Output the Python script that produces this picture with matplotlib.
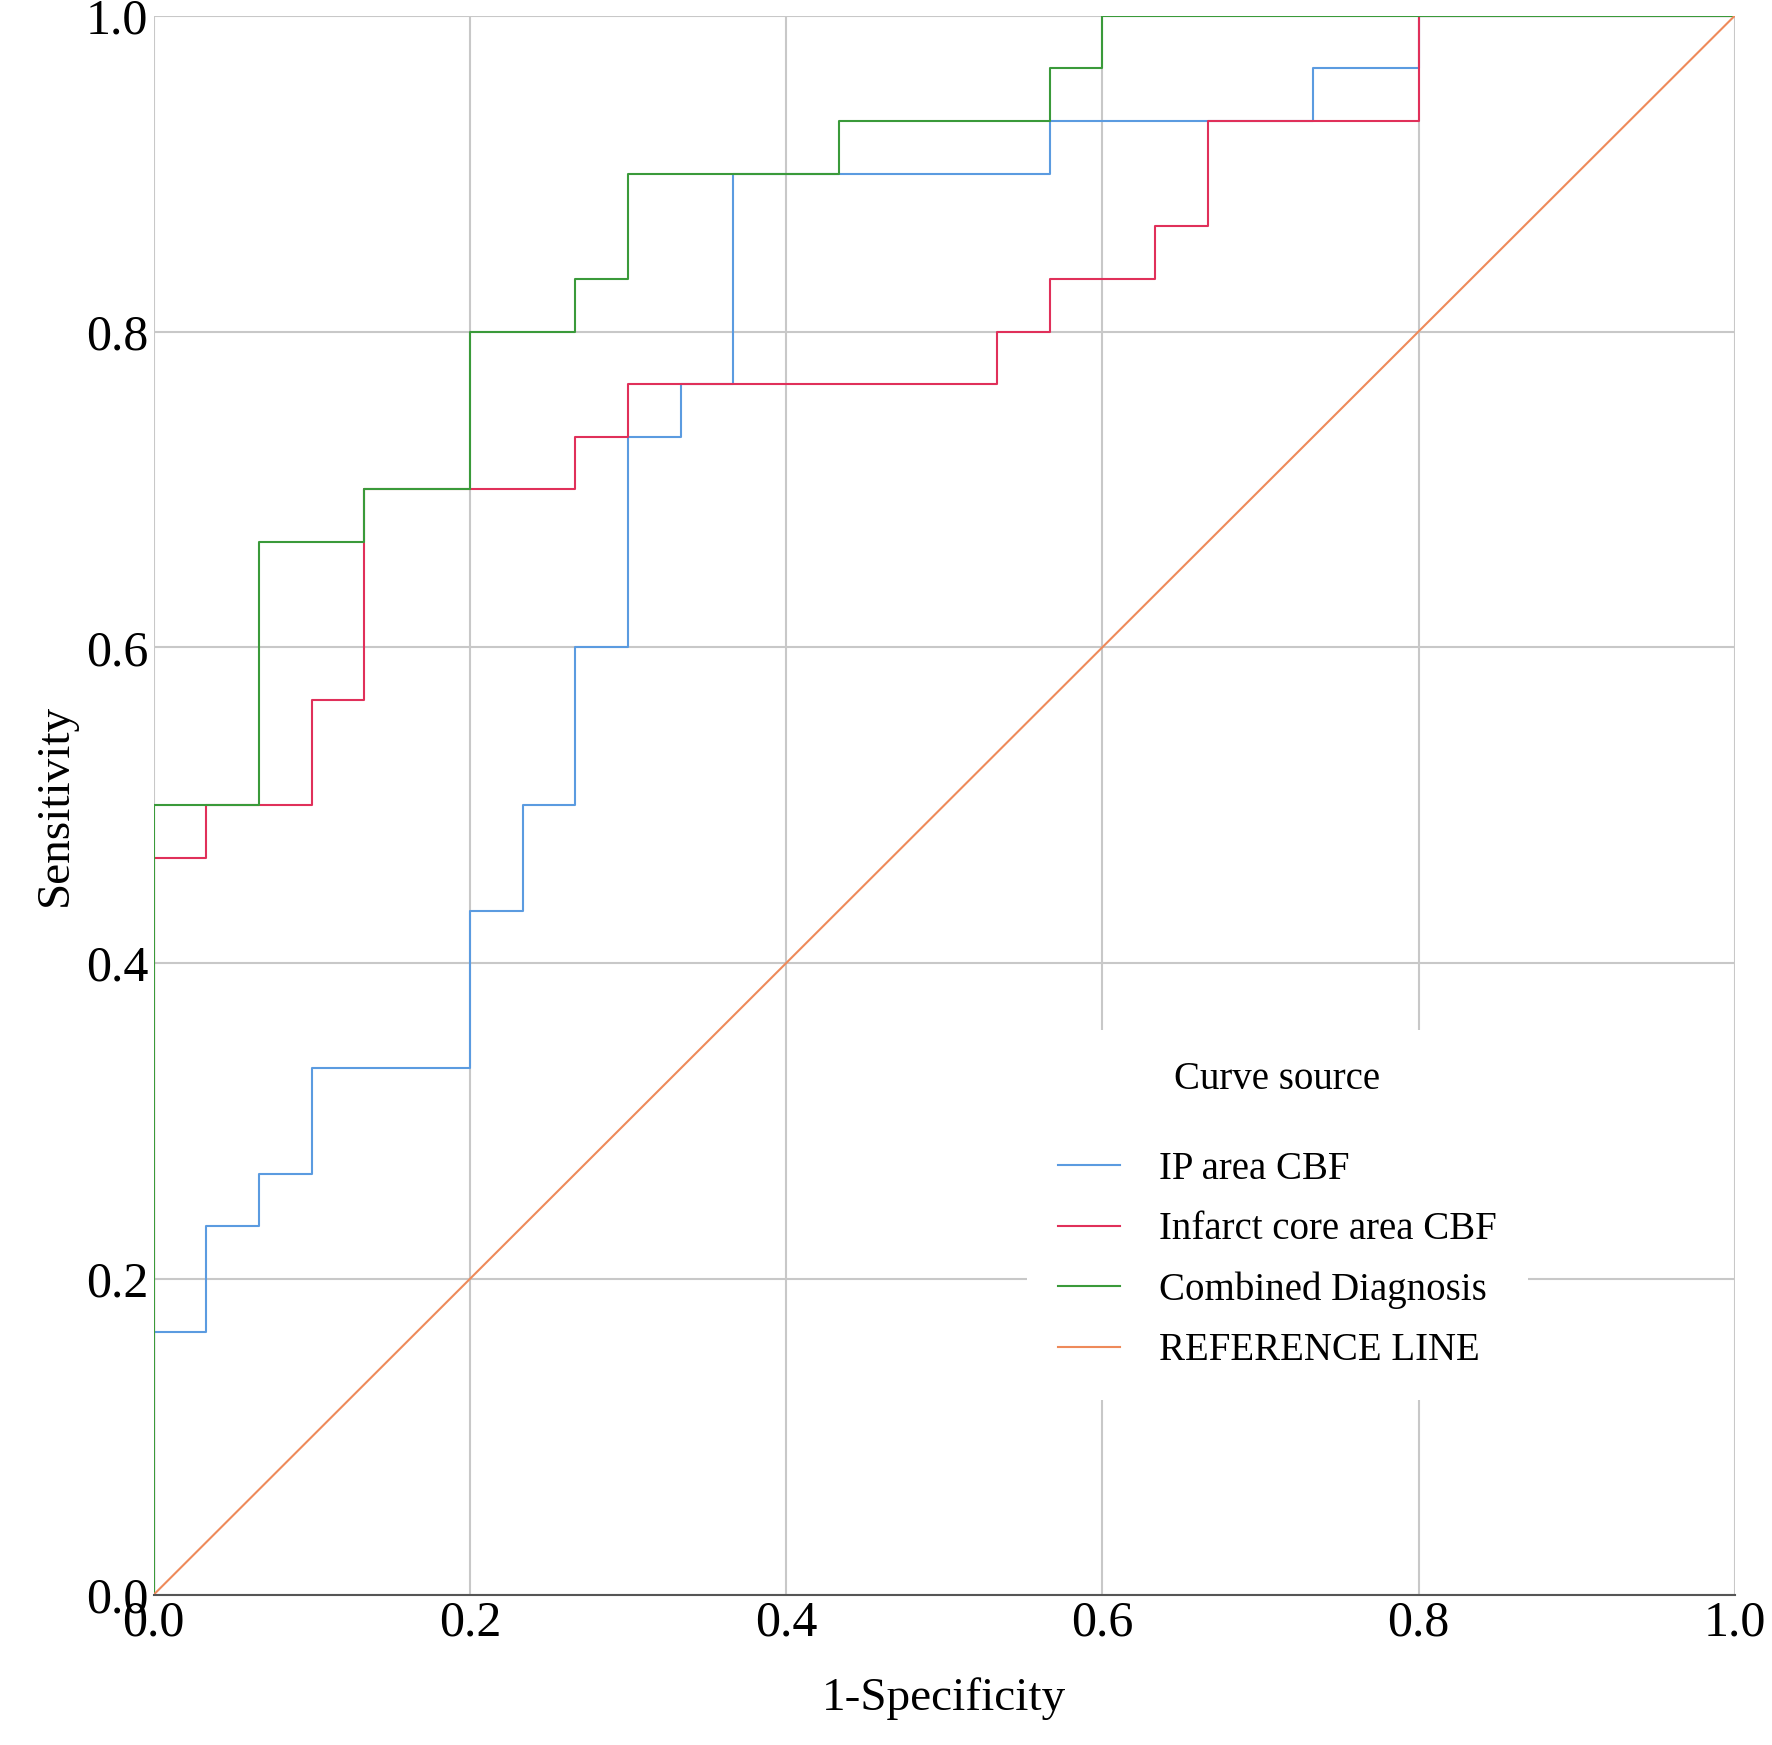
import matplotlib
matplotlib.use("Agg")
import matplotlib.pyplot as plt

# ROC step points (1-specificity, sensitivity)
ip_x = [0, 0, 0.0333, 0.0333, 0.0667, 0.0667, 0.1, 0.1, 0.2, 0.2, 0.2333, 0.2333, 0.2667, 0.2667,
        0.3, 0.3, 0.3333, 0.3333, 0.3667, 0.3667, 0.5667, 0.5667, 0.7333, 0.7333, 0.8, 0.8, 1.0]
ip_y = [0, 0.1667, 0.1667, 0.2333, 0.2333, 0.2667, 0.2667, 0.3333, 0.3333, 0.4333, 0.4333, 0.5, 0.5, 0.6,
        0.6, 0.7333, 0.7333, 0.7667, 0.7667, 0.9, 0.9, 0.9333, 0.9333, 0.9667, 0.9667, 1.0, 1.0]
core_x = [0, 0, 0.0333, 0.0333, 0.1, 0.1, 0.1333, 0.1333, 0.2667, 0.2667, 0.3, 0.3, 0.5333, 0.5333,
          0.5667, 0.5667, 0.6333, 0.6333, 0.6667, 0.6667, 0.8, 0.8, 1.0]
core_y = [0, 0.4667, 0.4667, 0.5, 0.5, 0.5667, 0.5667, 0.7, 0.7, 0.7333, 0.7333, 0.7667, 0.7667, 0.8,
          0.8, 0.8333, 0.8333, 0.8667, 0.8667, 0.9333, 0.9333, 1.0, 1.0]
comb_x = [0, 0, 0.0667, 0.0667, 0.1333, 0.1333, 0.2, 0.2, 0.2667, 0.2667, 0.3, 0.3, 0.4333, 0.4333,
          0.5667, 0.5667, 0.6, 0.6, 1.0]
comb_y = [0, 0.5, 0.5, 0.6667, 0.6667, 0.7, 0.7, 0.8, 0.8, 0.8333, 0.8333, 0.9, 0.9, 0.9333,
          0.9333, 0.9667, 0.9667, 1.0, 1.0]
ref_x = [0, 1]
ref_y = [0, 1]

plt.rcParams["font.family"] = ["Liberation Serif", "DejaVu Serif"]

fig = plt.figure(figsize=(17.72, 17.45), dpi=100)
ax = fig.add_axes([0.0867, 0.0861, 0.8923, 0.9049])

ax.plot(ip_x, ip_y, color="#5b9be0", lw=1.5, label="IP area CBF")
ax.plot(core_x, core_y, color="#e0305a", lw=1.5, label="Infarct core area CBF")
ax.plot(comb_x, comb_y, color="#3a9a3a", lw=1.5, label="Combined Diagnosis")
ax.plot(ref_x, ref_y, color="#ee8a5a", lw=1.5, label="REFERENCE LINE")

ax.set_xlim(0, 1)
ax.set_ylim(0, 1)
ticks = [0.0, 0.2, 0.4, 0.6, 0.8, 1.0]
ax.set_xticks(ticks)
ax.set_yticks(ticks)
ax.set_xticklabels([f"{t:.1f}" for t in ticks], fontsize=36)
ax.set_yticklabels([f"{t:.1f}" for t in ticks], fontsize=36)
ax.tick_params(length=0, pad=4)
ax.grid(True, color="#c8c8c8", lw=1.5)
ax.set_axisbelow(True)
for s in ["left", "right", "top"]:
    ax.spines[s].set_visible(False)
ax.spines["bottom"].set_color("#555555")
ax.spines["bottom"].set_linewidth(1.5)

ax.set_xlabel("1-Specificity", fontsize=34, labelpad=22)
ax.set_ylabel("Sensitivity", fontsize=34, labelpad=6)

leg = ax.legend(loc="upper left", bbox_to_anchor=(0.54, 0.37), title="Curve source",
                fontsize=28, title_fontsize=28, frameon=True, framealpha=1,
                edgecolor="white", facecolor="white", handlelength=1.6,
                labelspacing=0.6, borderpad=0.8, handletextpad=1.0)
leg._legend_box.sep = 38
leg.get_frame().set_linewidth(0)

fig.savefig("out.png", dpi=100)
